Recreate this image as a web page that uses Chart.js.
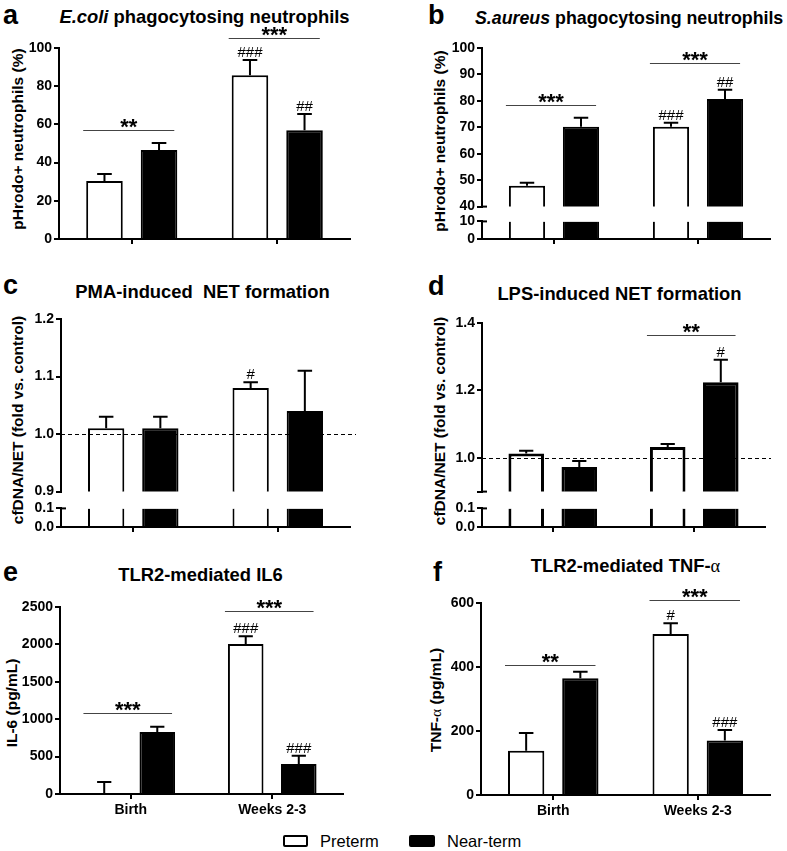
<!DOCTYPE html>
<html>
<head>
<meta charset="utf-8">
<script src="https://cdn.jsdelivr.net/npm/chart.js@4.4.0/dist/chart.umd.min.js"></script>
<style>
body { margin: 0; background: #fff; }
#fig { position: relative; width: 787px; height: 851px; overflow: hidden; font-family: "Liberation Sans", Arial, sans-serif; color: #000; }
.t { position: absolute; white-space: nowrap; line-height: 1; }
.lt { font-size: 27px; font-weight: bold; }
.ttl { font-size: 18.4px; font-weight: bold; text-align: center; }
.yt { font-size: 15.5px; font-weight: bold; transform: translate(-50%, -50%) rotate(-90deg); }
.gr { font-family: "Liberation Serif", "DejaVu Serif", serif; font-weight: normal; }
.leg { font-size: 16.5px; }
.box { position: absolute; box-sizing: border-box; border: 2px solid #000; border-radius: 2px; }
canvas { position: absolute; }
</style>
</head>
<body>
<div id="fig">
  <div class="t lt" style="left:3px;top:2px">a</div>
  <div class="t ttl" style="left:59px;top:8px;width:291px"><i>E.coli</i> phagocytosing neutrophils</div>
  <div class="t yt" style="left:18px;top:139px">pHrodo+ neutrophils (%)</div>

  <div class="t lt" style="left:428px;top:2px">b</div>
  <div class="t ttl" style="left:475px;top:10px;width:288px;font-size:17.8px"><i>S.aureus</i> phagocytosing neutrophils</div>
  <div class="t yt" style="left:440px;top:141px">pHrodo+ neutrophils (%)</div>

  <div class="t lt" style="left:3px;top:272px">c</div>
  <div class="t ttl" style="left:58px;top:283px;width:289px">PMA-induced&nbsp; NET formation</div>
  <div class="t yt" style="left:18px;top:420px">cfDNA/NET (fold vs. control)</div>

  <div class="t lt" style="left:428px;top:273px">d</div>
  <div class="t ttl" style="left:478px;top:285px;width:283px">LPS-induced NET formation</div>
  <div class="t yt" style="left:440px;top:421px">cfDNA/NET (fold vs. control)</div>

  <div class="t lt" style="left:3px;top:559px">e</div>
  <div class="t ttl" style="left:59px;top:566px;width:283px">TLR2-mediated IL6</div>
  <div class="t yt" style="left:12px;top:703px">IL-6 (pg/mL)</div>

  <div class="t lt" style="left:433px;top:559px">f</div>
  <div class="t ttl" style="left:481px;top:557px;width:289px">TLR2-mediated TNF-<span class="gr">α</span></div>
  <div class="t yt" style="left:436px;top:700px">TNF-<span class="gr">α</span> (pg/mL)</div>

  <div class="box" style="left:283px;top:835px;width:25px;height:12px;background:#fff"></div>
  <div class="t leg" style="left:320px;top:833px">Preterm</div>
  <div class="box" style="left:409px;top:835px;width:26px;height:12px;background:#000"></div>
  <div class="t leg" style="left:447px;top:833px">Near-term</div>
</div>
<script>
// categories and series
const groups = ['Birth', 'Weeks 2-3'];
const seriesNames = ['Preterm', 'Near-term'];

// a: E.coli phagocytosis (%)
const aPreterm = [30.4, 85.7];
const aPretermSem = [3.6, 8.0];
const aNearTerm = [46.6, 57.0];
const aNearTermSem = [3.7, 8.4];
const aPretermHash = ['', '###'];
const aNearTermHash = ['', '##'];
const aSigs = [{ group: 0, value: 57, text: '**' }, { group: 1, value: 105, text: '***' }];
const aTicks = [0, 20, 40, 60, 80, 100];
const aTickLabels = ['0', '20', '40', '60', '80', '100'];

// b: S.aureus phagocytosis (%), broken axis
const bPreterm = [47.9, 70.2];
const bPretermSem = [1.1, 1.5];
const bNearTerm = [70.2, 80.7];
const bNearTermSem = [3.4, 3.5];
const bPretermHash = ['', '###'];
const bNearTermHash = ['', '##'];
const bSigs = [{ group: 0, value: 78.5, text: '***' }, { group: 1, value: 94.3, text: '***' }];
const bTicks = [40, 50, 60, 70, 80, 90, 100];
const bTickLabels = ['40', '50', '60', '70', '80', '90', '100'];
const bLowTicks = [0, 10];
const bLowTickLabels = ['0', '10'];

// c: PMA-induced NET formation (fold), broken axis
const cPreterm = [1.01, 1.08];
const cPretermSem = [0.02, 0.01];
const cNearTerm = [1.01, 1.04];
const cNearTermSem = [0.02, 0.07];
const cPretermHash = ['', '#'];
const cNearTermHash = ['', ''];
const cTicks = [0.9, 1.0, 1.1, 1.2];
const cTickLabels = ['0.9', '1.0', '1.1', '1.2'];
const cLowTicks = [0, 0.1];
const cLowTickLabels = ['0.0', '0.1'];

// d: LPS-induced NET formation (fold), broken axis
const dPreterm = [1.013, 1.032];
const dPretermSem = [0.008, 0.009];
const dNearTerm = [0.973, 1.224];
const dNearTermSem = [0.018, 0.067];
const dPretermHash = ['', ''];
const dNearTermHash = ['', '#'];
const dSigs = [{ group: 1, value: 1.365, text: '**' }];
const dTicks = [0.9, 1.0, 1.2, 1.4];
const dTickLabels = ['', '1.0', '1.2', '1.4'];
const dLowTicks = [0, 0.1];
const dLowTickLabels = ['0.0', '0.1'];

// e: IL-6 (pg/mL)
const ePreterm = [0, 2005];
const ePretermSem = [160, 105];
const eNearTerm = [830, 400];
const eNearTermSem = [70, 110];
const ePretermHash = ['', '###'];
const eNearTermHash = ['', '###'];
const eSigs = [{ group: 0, value: 1080, text: '***' }, { group: 1, value: 2450, text: '***' }];
const eTicks = [0, 500, 1000, 1500, 2000, 2500];
const eTickLabels = ['0', '500', '1000', '1500', '2000', '2500'];

// f: TNF-alpha (pg/mL)
const fPreterm = [138, 503];
const fPretermSem = [56, 34];
const fNearTerm = [365, 170];
const fNearTermSem = [20, 33];
const fPretermHash = ['', '#'];
const fNearTermHash = ['', '###'];
const fSigs = [{ group: 0, value: 406, text: '**' }, { group: 1, value: 609, text: '***' }];
const fTicks = [0, 200, 400, 600];
const fTickLabels = ['0', '200', '400', '600'];

const FONT = '"Liberation Sans", Arial, sans-serif';
Chart.defaults.font.family = FONT;
Chart.defaults.color = '#000';

// error bars, # marks, significance lines, dashed reference, axis-break caps
function annotate(cfg) {
    return {
        id: 'annot',
        afterDatasetsDraw(chart) {
            const ctx = chart.ctx;
            const y = chart.scales.y;
            const area = chart.chartArea;
            ctx.save();
            ctx.strokeStyle = '#000';
            ctx.fillStyle = '#000';
            if (cfg.refLine !== undefined) {
                const py = Math.round(y.getPixelForValue(cfg.refLine)) + 0.5;
                ctx.lineWidth = 1;
                ctx.setLineDash([4, 3]);
                ctx.beginPath();
                ctx.moveTo(area.left, py);
                ctx.lineTo(area.right + 6, py);
                ctx.stroke();
                ctx.setLineDash([]);
            }
            if (cfg.cap) {
                const py = cfg.cap === 'top' ? area.top : area.bottom;
                ctx.lineWidth = 2;
                ctx.beginPath();
                ctx.moveTo(area.left - 1, py);
                ctx.lineTo(area.left + 5, py);
                ctx.stroke();
            }
            (cfg.sem || []).forEach((sem, di) => {
                const vals = chart.data.datasets[di].data;
                chart.getDatasetMeta(di).data.forEach((bar, i) => {
                    const top = y.getPixelForValue(vals[i] + sem[i]);
                    const half = bar.width * 0.2;
                    ctx.strokeStyle = '#000';
                    ctx.lineWidth = 2;
                    ctx.beginPath();
                    ctx.moveTo(bar.x, bar.y);
                    ctx.lineTo(bar.x, top);
                    ctx.moveTo(bar.x - half, top);
                    ctx.lineTo(bar.x + half, top);
                    ctx.stroke();
                    const h = cfg.hashes && cfg.hashes[di][i];
                    if (h) {
                        ctx.font = '15px ' + FONT;
                        ctx.textAlign = 'center';
                        ctx.textBaseline = 'alphabetic';
                        ctx.fillText(h, bar.x, top - 3);
                    }
                });
            });
            (cfg.sigs || []).forEach(s => {
                const w = chart.getDatasetMeta(0).data[s.group];
                const b = chart.getDatasetMeta(1).data[s.group];
                const x1 = w.x - w.width / 2 - 3;
                const x2 = b.x + b.width / 2 - 3;
                const py = Math.round(y.getPixelForValue(s.value)) + 0.5;
                ctx.strokeStyle = '#444';
                ctx.lineWidth = 1;
                ctx.beginPath();
                ctx.moveTo(x1, py);
                ctx.lineTo(x2, py);
                ctx.stroke();
                ctx.font = 'bold 22px ' + FONT;
                ctx.textAlign = 'center';
                ctx.textBaseline = 'alphabetic';
                ctx.fillText(s.text, (x1 + x2) / 2, py + 3);
            });
            ctx.restore();
        }
    };
}

const fig = document.getElementById('fig');
const AXIS_W = 60, PAD_R = 14, PAD_B = 10;

// area = plot area in page pixels [x0, y0, x1, y1]
function panel(area, o) {
    const [x0, y0, x1, y1] = area;
    const xH = o.xLabels ? 30 : (o.xAxis ? 8 : 0);
    const padT = o.padTop !== undefined ? o.padTop : 40;
    const bw = o.bw || 2;
    // lower part of a broken axis: only the bar sides are outlined
    const border = o.low ? { left: bw, right: bw, top: 0, bottom: 0 } : bw;
    const cv = document.createElement('canvas');
    cv.width = x1 - x0 + AXIS_W + PAD_R;
    cv.height = y1 - y0 + padT + PAD_B + xH;
    cv.style.left = (x0 - AXIS_W) + 'px';
    cv.style.top = (y0 - padT) + 'px';
    fig.appendChild(cv);

    const axisFont = { family: FONT, size: 14, weight: 'bold' };
    new Chart(cv, {
        type: 'bar',
        data: {
            labels: groups,
            datasets: [{
                label: seriesNames[0],
                data: o.pre,
                backgroundColor: '#fff',
                borderColor: '#000',
                borderWidth: border,
                borderSkipped: o.low ? false : 'start'
            }, {
                label: seriesNames[1],
                data: o.near,
                backgroundColor: '#000',
                borderColor: '#000',
                borderWidth: border,
                borderSkipped: o.low ? false : 'start'
            }]
        },
        options: {
            responsive: false,
            animation: false,
            layout: { padding: { top: padT, right: PAD_R, bottom: PAD_B, left: 0 } },
            plugins: { legend: { display: false }, tooltip: { enabled: false } },
            datasets: { bar: { categoryPercentage: 0.75, barPercentage: 0.67 } },
            scales: {
                x: {
                    display: xH > 0,
                    offset: true,
                    grid: { display: true, drawOnChartArea: false, drawTicks: true, tickLength: 5, offset: false, color: '#000', lineWidth: 2 },
                    border: { display: true, color: '#000', width: 2 },
                    ticks: { display: !!o.xLabels, color: '#000', font: axisFont, padding: 3, maxRotation: 0 },
                    afterFit: s => { s.height = xH; }
                },
                y: {
                    min: o.min,
                    max: o.max,
                    afterBuildTicks: s => { s.ticks = o.ticks.map(v => ({ value: v })); },
                    ticks: { callback: (v, i) => o.tickLabels[i], color: '#000', font: axisFont, padding: 2, autoSkip: false },
                    grid: { display: true, drawOnChartArea: false, drawTicks: true, tickLength: 5, color: '#000', lineWidth: 2 },
                    border: { display: true, color: '#000', width: 2 },
                    afterFit: s => { s.width = AXIS_W; }
                }
            }
        },
        plugins: [annotate(o.annot || {})]
    });
}

panel([59, 48, 350, 239], {
    pre: aPreterm, near: aNearTerm, min: 0, max: 100, ticks: aTicks, tickLabels: aTickLabels, xAxis: true,
    annot: { sem: [aPretermSem, aNearTermSem], hashes: [aPretermHash, aNearTermHash], sigs: aSigs }
});

const bLowTop = bLowTicks[bLowTicks.length - 1];
panel([482, 48, 770, 207], {
    pre: bPreterm, near: bNearTerm, min: 40, max: 100, ticks: bTicks, tickLabels: bTickLabels,
    annot: { sem: [bPretermSem, bNearTermSem], hashes: [bPretermHash, bNearTermHash], sigs: bSigs, cap: 'bottom' }
});
panel([482, 221, 770, 239], {
    pre: groups.map(() => bLowTop), near: groups.map(() => bLowTop), min: 0, max: bLowTop,
    ticks: bLowTicks, tickLabels: bLowTickLabels, xAxis: true, padTop: 10, low: true,
    annot: { cap: 'top' }
});

const cLowTop = cLowTicks[cLowTicks.length - 1];
panel([61, 319, 350, 492], {
    pre: cPreterm, near: cNearTerm, min: 0.9, max: 1.2, ticks: cTicks, tickLabels: cTickLabels,
    annot: { sem: [cPretermSem, cNearTermSem], hashes: [cPretermHash, cNearTermHash], refLine: 1.0 }
});
panel([61, 508, 350, 527], {
    pre: groups.map(() => cLowTop), near: groups.map(() => cLowTop), min: 0, max: cLowTop,
    ticks: cLowTicks, tickLabels: cLowTickLabels, xAxis: true, padTop: 10, low: true,
    annot: { cap: 'top' }
});

const dLowTop = dLowTicks[dLowTicks.length - 1];
panel([482, 323, 765, 492], {
    pre: dPreterm, near: dNearTerm, min: 0.9, max: 1.4, ticks: dTicks, tickLabels: dTickLabels, bw: 3,
    annot: { sem: [dPretermSem, dNearTermSem], hashes: [dPretermHash, dNearTermHash], sigs: dSigs, refLine: 1.0, cap: 'bottom' }
});
panel([482, 508, 765, 527], {
    pre: groups.map(() => dLowTop), near: groups.map(() => dLowTop), min: 0, max: dLowTop,
    ticks: dLowTicks, tickLabels: dLowTickLabels, xAxis: true, padTop: 10, low: true, bw: 3,
    annot: { cap: 'top' }
});

panel([60, 607, 343, 794], {
    pre: ePreterm, near: eNearTerm, min: 0, max: 2500, ticks: eTicks, tickLabels: eTickLabels, xLabels: true,
    annot: { sem: [ePretermSem, eNearTermSem], hashes: [ePretermHash, eNearTermHash], sigs: eSigs }
});

panel([481, 603, 770, 795], {
    pre: fPreterm, near: fNearTerm, min: 0, max: 600, ticks: fTicks, tickLabels: fTickLabels, xLabels: true,
    annot: { sem: [fPretermSem, fNearTermSem], hashes: [fPretermHash, fNearTermHash], sigs: fSigs }
});
</script>
</body>
</html>
